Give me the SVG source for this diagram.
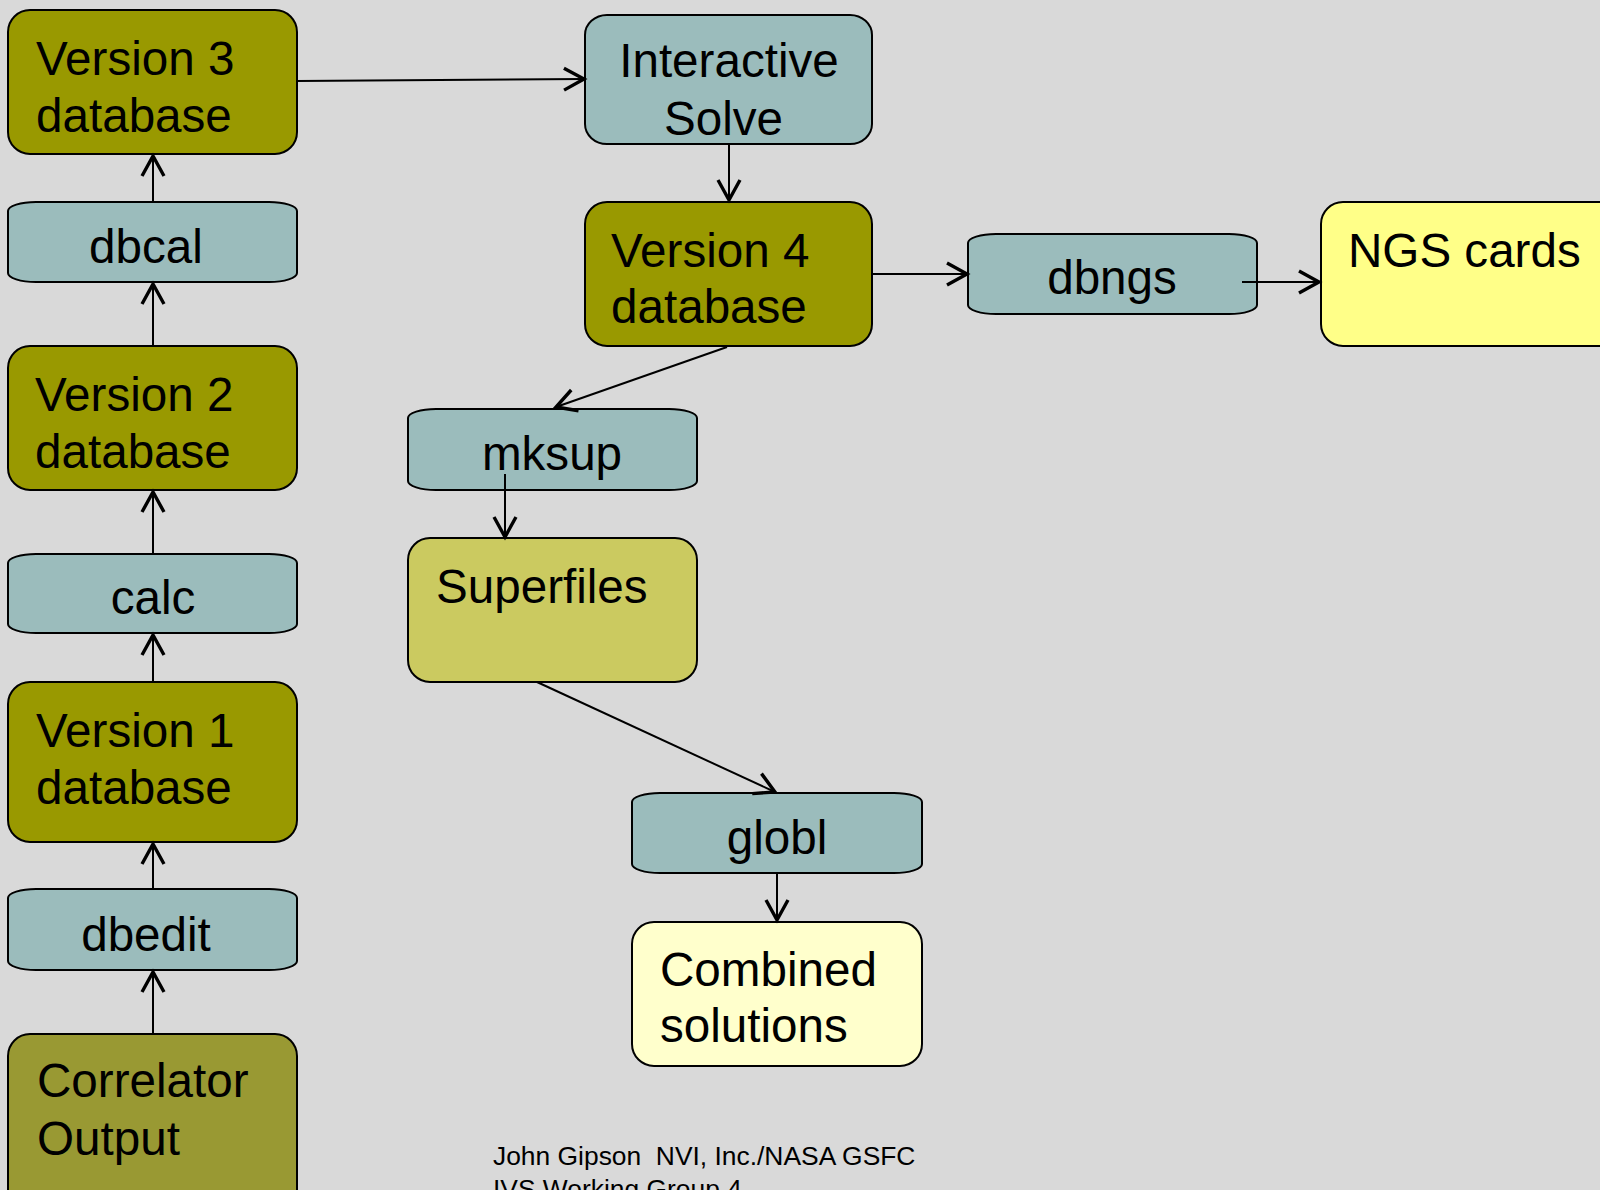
<svg xmlns="http://www.w3.org/2000/svg" width="1600" height="1190" viewBox="0 0 1600 1190">
<style>
  .box { stroke: #000; stroke-width: 2; }
  .olive { fill: #999900; }
  .corr { fill: #999933; }
  .teal { fill: #9BBCBC; }
  .super { fill: #CBCA60; }
  .ngs { fill: #FFFF88; }
  .comb { fill: #FFFFCC; }
  .lbl { font-family: "Liberation Sans", Arial, sans-serif; font-size: 47.6px; fill: #000; }
  .mid { text-anchor: middle; }
  .foot { font-family: "Liberation Sans", Arial, sans-serif; font-size: 26.4px; fill: #000; white-space: pre; }
  .conn line { stroke: #000; stroke-width: 2; fill: none; marker-end: url(#arr); }
</style>
<defs>
  <marker id="arr" markerUnits="userSpaceOnUse" viewBox="-24 -14 28 28" refX="0" refY="0" markerWidth="28" markerHeight="28" orient="auto" overflow="visible">
    <path d="M-20,-11 L0,0 L-20,11" fill="none" stroke="#000" stroke-width="3.4"/>
  </marker>
</defs>
<rect width="1600" height="1190" fill="#D9D9D9"/>

<g id="v3db">
  <rect class="box olive" x="8" y="10" width="289" height="144" rx="22" ry="22"/>
  <text class="lbl" x="36" y="75">Version 3</text>
  <text class="lbl" x="36" y="132">database</text>
</g>
<g id="dbcal">
  <rect class="box teal" x="8" y="202" width="289" height="80" rx="28" ry="9"/>
  <text class="lbl mid" x="146" y="263">dbcal</text>
</g>
<g id="v2db">
  <rect class="box olive" x="8" y="346" width="289" height="144" rx="22" ry="22"/>
  <text class="lbl" x="35" y="411">Version 2</text>
  <text class="lbl" x="35" y="468">database</text>
</g>
<g id="calc">
  <rect class="box teal" x="8" y="554" width="289" height="79" rx="28" ry="9"/>
  <text class="lbl mid" x="153" y="614">calc</text>
</g>
<g id="v1db">
  <rect class="box olive" x="8" y="682" width="289" height="160" rx="22" ry="22"/>
  <text class="lbl" x="36" y="747">Version 1</text>
  <text class="lbl" x="36" y="804">database</text>
</g>
<g id="dbedit">
  <rect class="box teal" x="8" y="889" width="289" height="81" rx="28" ry="9"/>
  <text class="lbl mid" x="146" y="951">dbedit</text>
</g>
<g id="correlator">
  <rect class="box corr" x="8" y="1034" width="289" height="190" rx="22" ry="22"/>
  <text class="lbl" x="37" y="1097">Correlator</text>
  <text class="lbl" x="37" y="1155">Output</text>
</g>
<g id="isolve">
  <rect class="box teal" x="585" y="15" width="287" height="129" rx="22" ry="20"/>
  <text class="lbl mid" x="729" y="77">Interactive</text>
  <text class="lbl" x="664" y="135">Solve</text>
</g>
<g id="v4db">
  <rect class="box olive" x="585" y="202" width="287" height="144" rx="22" ry="22"/>
  <text class="lbl" x="611" y="267">Version 4</text>
  <text class="lbl" x="611" y="323">database</text>
</g>
<g id="dbngs">
  <rect class="box teal" x="968" y="234" width="289" height="80" rx="28" ry="9"/>
  <text class="lbl mid" x="1112" y="294">dbngs</text>
</g>
<g id="ngscards">
  <rect class="box ngs" x="1321" y="202" width="300" height="144" rx="22" ry="22"/>
  <text class="lbl" x="1348" y="267">NGS cards</text>
</g>
<g id="mksup">
  <rect class="box teal" x="408" y="409" width="289" height="81" rx="28" ry="9"/>
  <text class="lbl mid" x="552" y="470">mksup</text>
</g>
<g id="superfiles">
  <rect class="box super" x="408" y="538" width="289" height="144" rx="22" ry="22"/>
  <text class="lbl" x="436" y="603">Superfiles</text>
</g>
<g id="globl">
  <rect class="box teal" x="632" y="793" width="290" height="80" rx="28" ry="9"/>
  <text class="lbl mid" x="777" y="854">globl</text>
</g>
<g id="combined">
  <rect class="box comb" x="632" y="922" width="290" height="144" rx="22" ry="22"/>
  <text class="lbl" x="660" y="986">Combined</text>
  <text class="lbl" x="660" y="1042">solutions</text>
</g>

<g id="connectors" class="conn">
  <line x1="153" y1="201" x2="153" y2="156"/>
  <line x1="153" y1="346" x2="153" y2="284"/>
  <line x1="153" y1="554" x2="153" y2="492"/>
  <line x1="153" y1="682" x2="153" y2="635"/>
  <line x1="153" y1="889" x2="153" y2="844"/>
  <line x1="153" y1="1034" x2="153" y2="972"/>
  <line x1="297" y1="81" x2="584" y2="79"/>
  <line x1="729" y1="144" x2="729" y2="200"/>
  <line x1="872" y1="274" x2="967" y2="274"/>
  <line x1="1242" y1="282" x2="1319" y2="282"/>
  <line x1="727" y1="347" x2="556" y2="407"/>
  <line x1="505" y1="474" x2="505" y2="537"/>
  <line x1="537" y1="682" x2="775" y2="792"/>
  <line x1="777" y1="873" x2="777" y2="920"/>
</g>

<g id="footer">
  <text class="foot" x="493" y="1165">John Gipson  NVI, Inc./NASA GSFC</text>
  <text class="foot" x="493" y="1198">IVS Working Group 4</text>
</g>
</svg>
